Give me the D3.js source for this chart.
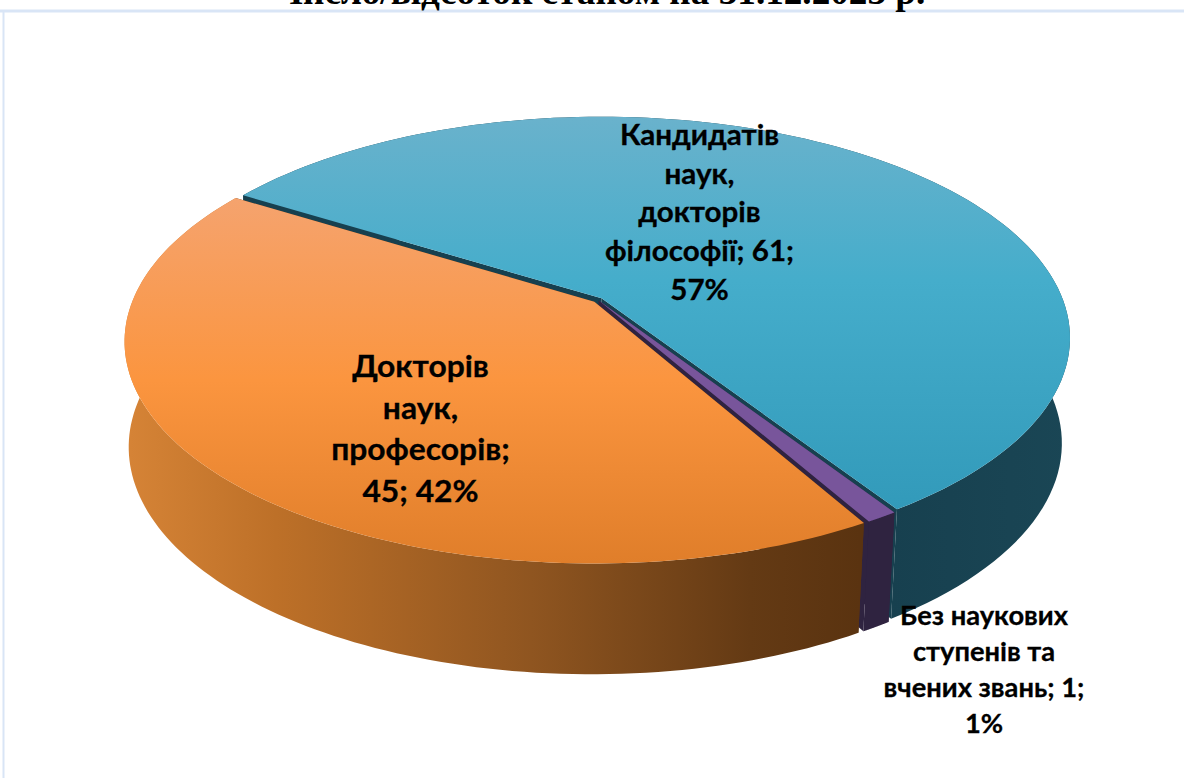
<!DOCTYPE html>
<html><head><meta charset="utf-8">
<script src="https://cdn.jsdelivr.net/npm/d3@7"></script>
<style>html,body{margin:0;padding:0;background:#fff;overflow:hidden}svg{display:block}</style>
</head><body><svg id="c" width="1184" height="778"></svg>
<script>
const categories=["Кандидатів наук, докторів філософії","Без наукових ступенів та вчених звань","Доктори наук, професорів"];
const seriesValues=[61,1,45];
const percentLabels=["57%","1%","42%"];
const labelLines=[
 ["Кандидатів","наук,","докторів","філософії; 61;","57%"],
 ["Без наукових","ступенів та","вчених звань; 1;","1%"],
 ["Докторів","наук,","професорів;","45; 42%"]];
const titleText="Число/відсоток станом на 31.12.2023 р.";

const svg=d3.select("#c");
const defs=svg.append("defs");
function grad(id,x1,y1,x2,y2,stops){
  const g=defs.append("linearGradient").attr("id",id).attr("gradientUnits","userSpaceOnUse")
    .attr("x1",x1).attr("y1",y1).attr("x2",x2).attr("y2",y2);
  stops.forEach(s=>g.append("stop").attr("offset",s[0]).attr("stop-color",s[1]));
}
grad("topBlue",0,115,0,510,[[0,"#6ab2cc"],[.42,"#45adcb"],[1,"#329aba"]]);
grad("topOrange",0,198,0,563,[[0,"#f5a36e"],[.5,"#fb953f"],[1,"#e07e2a"]]);
grad("wallOrange",130,0,860,0,[[0,"#d58336"],[.2,"#bd7028"],[.55,"#8f5520"],[.85,"#643a14"],[1,"#5a3310"]]);
grad("wallBlue",890,0,1071,0,[[0,"#17404f"],[1,"#1a4655"]]);

const styles=[
 {top:"url(#topBlue)",wall:"url(#wallBlue)",cut:"#17404f"},
 {top:"#78559b",wall:"#2f2340",cut:"#2f2340"},
 {top:"url(#topOrange)",wall:"url(#wallOrange)",cut:"#5a3310"}];

// disk -> screen projections (perspective on top and bottom faces)
const k=-0.1783;
function project(face,u,v){
  const w=1+k*v;
  return [face.cx+face.r*u/w,(face.b+face.a*v)/w];
}
const topFace={cx:598,r:461.5,a:161,b:300};
const botFace={cx:596,r:455.5,a:147.5,b:404.5};

const pie=d3.pie().value(d=>d).sort(null)
  .startAngle(-58.2*Math.PI/180).endAngle((360-58.2)*Math.PI/180);
const arcs=pie(seriesValues);
const gap=0.011;

function diskPoint(a,rad,off){return [off[0]+rad*Math.sin(a),off[1]-rad*Math.cos(a)];}
const line=d3.line();
function arcSamples(a0,a1){return d3.range(0,121).map(i=>a0+(a1-a0)*i/120);}

const g=svg.append("g");
arcs.forEach((d,i)=>{
  const mid=(d.startAngle+d.endAngle)/2;
  const off=[gap*Math.sin(mid)*(i==1?.3:1),-gap*Math.cos(mid)*(i==1?.3:1)];
  const st=styles[i];
  const T=p=>project(topFace,p[0],p[1]), B=p=>project(botFace,p[0],p[1]);
  const apex=off;
  const p0=diskPoint(d.startAngle,1,off), p1=diskPoint(d.endAngle,1,off);
  [p0,p1].forEach(p=>{
    g.append("path").attr("d",line([T(apex),T(p),B(p),B(apex)])+"Z").attr("fill",st.cut);
  });
  const s=arcSamples(d.startAngle,d.endAngle).map(a=>diskPoint(a,1,off));
  g.append("path").attr("d",line(s.map(T).concat(s.map(B).reverse()))+"Z").attr("fill",st.wall);
  g.append("path").attr("d",line([T(apex)].concat(s.map(T)))+"Z").attr("fill",st.top);
});

// frame & title
svg.append("path").attr("d","M0,11H1184").attr("stroke","#d9e5f6").attr("stroke-width",3);
svg.append("path").attr("d","M3.5,11V778").attr("stroke","#d9e5f6").attr("stroke-width",2);
svg.append("text").attr("x",600.5).attr("y",4).attr("text-anchor","middle")
  .attr("font-family","'Liberation Serif',serif").attr("font-weight","bold").attr("font-size",37.2)
  .attr("fill","#000").text(titleText);

// labels
const labelPos=[{x:699.5,y:145},{x:984,y:625},{x:420.5,y:377}];
const labelFont="Lato,'Open Sans',sans-serif";
const labelSize=[29,26.5,30], lineStep=[38.7,36,41.7], stretch=[1.02,1.03,1.06];
labelLines.forEach((ls,i)=>{
  const t=svg.append("g").attr("transform",`translate(${labelPos[i].x},0) scale(${stretch[i]},1)`)
   .append("text").attr("text-anchor","middle").attr("font-family",labelFont)
   .attr("font-weight","bold").attr("font-size",labelSize[i]).attr("fill","#000")
   .attr("stroke","#000").attr("stroke-width",0.3);
  ls.forEach((l,j)=>t.append("tspan").attr("x",0).attr("y",labelPos[i].y+j*lineStep[i]).text(l));
});
</script></body></html>
